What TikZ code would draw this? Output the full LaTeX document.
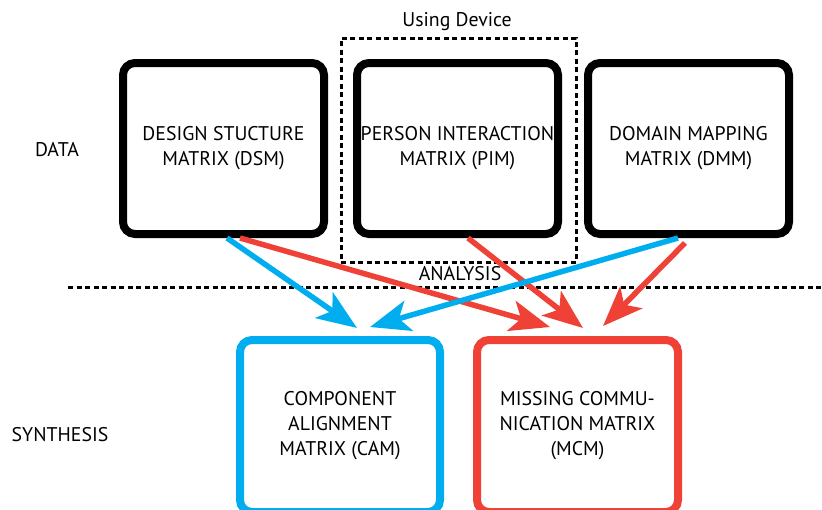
\documentclass[tikz,border=0pt]{standalone}
\usepackage{fontspec}
\setmainfont{PT Sans}
\usetikzlibrary{arrows.meta,calc}
\definecolor{cblue}{HTML}{00AEEF}
\definecolor{cred}{HTML}{EF4136}
\begin{document}
\begin{tikzpicture}[x=1pt,y=-1pt,
  txt/.style={font=\fontsize{19.8}{25}\selectfont},
  mbox/.style={draw, line width=8pt, rounded corners=12pt, minimum width=201pt,
    minimum height=171pt, align=center, inner sep=0pt, txt},
  dashbox/.style={draw, line width=3pt, dash pattern=on 5pt off 3.5pt, inner sep=0pt},
  arr/.style={line width=5.5pt, -{Stealth[length=40pt,width=31pt,inset=10pt]}},
]
\useasboundingbox (0,0) rectangle (822,509);
\clip (0,0) rectangle (822,509);

% dashed group box
\node[dashbox, minimum width=235pt, minimum height=224pt] (dev) at (458.5,150) {};
\node[txt] (devlbl) at (457,22) {Using Device};

% data boxes
\node[mbox] (dsm) at (223.5,148.5) {DESIGN STUCTURE\\MATRIX (DSM)};
\node[mbox] (pim) at (457.5,148.5) {PERSON INTERACTION\\MATRIX (PIM)};
\node[mbox] (dmm) at (688.5,148.5) {DOMAIN MAPPING\\MATRIX (DMM)};

% synthesis boxes
\node[mbox, draw=cblue, minimum width=200pt, minimum height=172pt] (cam) at (340,426) {COMPONENT\\ALIGNMENT\\MATRIX (CAM)};
\node[mbox, draw=cred, minimum width=201pt, minimum height=172pt] (mcm) at (577.5,426) {MISSING COMMU-\\NICATION MATRIX\\(MCM)};

% side labels
\node[txt] (data) at (57,150) {DATA};
\node[txt] (synth) at (60,435) {SYNTHESIS};

% analysis divider
\coordinate (dl) at (68,287);
\coordinate (dr) at (822,287);
\draw[line width=3pt, dash pattern=on 5pt off 3.5pt] (dl) -- (dr);
\node[txt] (ana) at (460,274) {ANALYSIS};

% arrows
\draw[arr, cred] ([xshift=16.5pt]dsm.south) -- ([xshift=-27.5pt,yshift=9pt]mcm.north);
\draw[arr, cred] ([xshift=10.5pt]pim.south) -- ([xshift=5.5pt,yshift=8pt]mcm.north);
\draw[arr, cred] ([xshift=-3.5pt,yshift=-5pt]dmm.south) -- ([xshift=25.5pt,yshift=10pt]mcm.north);
\draw[arr, cblue] ([xshift=3.5pt]dsm.south) -- ([xshift=17pt,yshift=8pt]cam.north);
\draw[arr, cblue] ([xshift=-10.5pt]dmm.south) -- ([xshift=30pt,yshift=9pt]cam.north);
\end{tikzpicture}
\end{document}
